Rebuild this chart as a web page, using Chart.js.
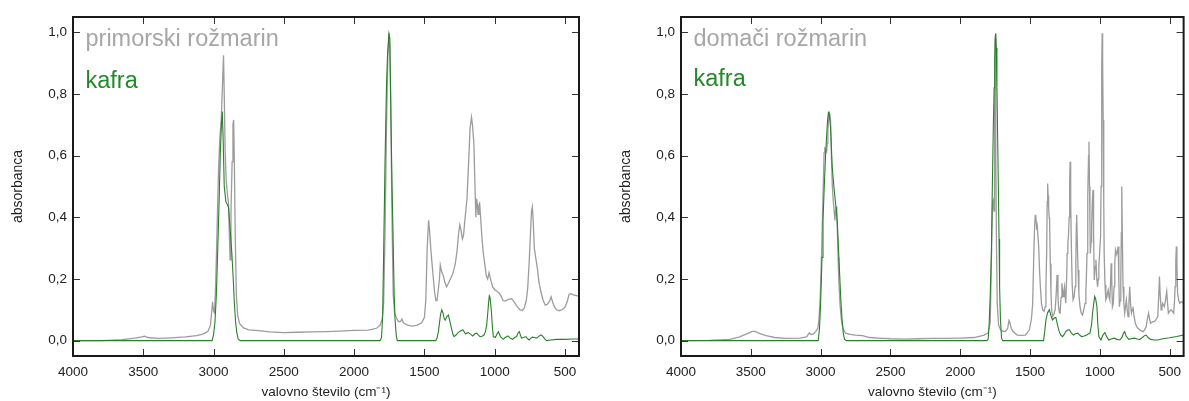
<!DOCTYPE html>
<html>
<head>
<meta charset="utf-8">
<script src="https://cdn.jsdelivr.net/npm/chart.js@4"></script>
<style>
  html, body { margin: 0; padding: 0; background: #fff; }
  #wrap { position: relative; width: 1189px; height: 401px; }
  .panel { position: absolute; top: 0; height: 401px; }
</style>
</head>
<body>
<div id="wrap">
  <div class="panel" style="left:0;width:594px"><canvas id="leftChart"></canvas></div>
  <div class="panel" style="left:608px;width:581px"><canvas id="rightChart"></canvas></div>
</div>
<script>
// Axis ticks (wavenumber in cm^-1, absorbance)
const xTickValues = [4000, 3500, 3000, 2500, 2000, 1500, 1000, 500];
const yTickValues = [0, 0.2, 0.4, 0.6, 0.8, 1.0];

// Series names
const leftSampleName = 'primorski rožmarin';
const rightSampleName = 'domači rožmarin';
const referenceName = 'kafra';

// IR spectrum: primorski rožmarin  [wavenumber, absorbance]
const primorskiSpectrum = [
  [4000,0.0],[3800,0.0],[3650,0.003],[3560,0.008],[3510,0.012],[3490,0.014],[3470,0.01],[3400,0.007],
  [3300,0.009],[3200,0.012],[3120,0.016],[3070,0.022],[3040,0.03],[3022,0.05],[3012,0.1],[3007,0.126],
  [3000,0.095],[2993,0.09],[2985,0.18],[2975,0.36],[2965,0.55],[2955,0.66],[2945,0.72],[2935,0.85],
  [2929,0.926],[2924,0.8],[2918,0.62],[2910,0.52],[2900,0.47],[2893,0.44],[2887,0.33],[2882,0.262],
  [2876,0.42],[2868,0.58],[2862,0.7],[2857,0.716],[2852,0.58],[2846,0.35],[2838,0.15],[2828,0.08],
  [2815,0.056],[2790,0.042],[2750,0.035],[2700,0.033],[2600,0.028],[2500,0.026],[2400,0.027],[2300,0.028],
  [2200,0.029],[2100,0.031],[2000,0.033],[1900,0.034],[1840,0.04],[1815,0.05],[1800,0.07],[1790,0.12],
  [1780,0.35],[1770,0.68],[1760,0.92],[1752,0.998],[1746,0.95],[1740,0.8],[1732,0.45],[1722,0.15],
  [1712,0.09],[1700,0.075],[1685,0.062],[1670,0.062],[1660,0.07],[1650,0.058],[1620,0.05],[1585,0.047],
  [1550,0.05],[1520,0.058],[1500,0.075],[1490,0.13],[1480,0.3],[1470,0.39],[1462,0.35],[1455,0.3],
  [1440,0.22],[1428,0.16],[1418,0.13],[1410,0.13],[1400,0.17],[1393,0.2],[1387,0.245],[1378,0.225],
  [1365,0.21],[1355,0.19],[1342,0.175],[1330,0.185],[1315,0.2],[1297,0.218],[1280,0.25],[1268,0.29],
  [1256,0.35],[1248,0.375],[1240,0.36],[1230,0.33],[1222,0.34],[1210,0.4],[1197,0.46],[1185,0.58],
  [1175,0.69],[1165,0.725],[1158,0.7],[1148,0.64],[1140,0.5],[1134,0.4],[1128,0.46],[1123,0.44],
  [1118,0.41],[1112,0.44],[1107,0.445],[1100,0.4],[1090,0.33],[1080,0.28],[1068,0.24],[1060,0.21],
  [1050,0.2],[1040,0.22],[1030,0.2],[1015,0.175],[1000,0.165],[985,0.16],[970,0.155],[955,0.145],
  [940,0.13],[925,0.128],[900,0.134],[880,0.136],[860,0.125],[840,0.11],[820,0.1],[805,0.097],
  [790,0.105],[775,0.13],[765,0.17],[755,0.25],[745,0.35],[738,0.42],[732,0.434],[726,0.39],
  [718,0.3],[705,0.26],[695,0.23],[685,0.19],[672,0.16],[655,0.13],[640,0.115],[625,0.118],
  [610,0.128],[598,0.142],[588,0.125],[575,0.11],[560,0.1],[540,0.097],[520,0.1],[500,0.108],
  [485,0.125],[470,0.15],[455,0.152],[440,0.148],[425,0.147],[410,0.145],[400,0.144]
];

// IR spectrum: kafra, measured alongside primorski rožmarin
const kafraSpectrumA = [
  [4000,0.0],[3100,0.0],[3010,0.0],[3000,0.02],[2990,0.06],[2980,0.15],[2971,0.284],[2960,0.46],
  [2952,0.608],[2944,0.7],[2938,0.743],[2932,0.66],[2924,0.5],[2912,0.45],[2900,0.44],[2893,0.43],
  [2882,0.36],[2870,0.284],[2860,0.2],[2852,0.122],[2843,0.06],[2836,0.03],[2825,0.005],[2810,0.0],
  [1815,0.0],[1805,0.01],[1797,0.08],[1790,0.28],[1780,0.58],[1770,0.82],[1762,0.93],[1752,0.995],
  [1746,0.98],[1738,0.72],[1730,0.5],[1723,0.34],[1715,0.15],[1709,0.07],[1700,0.015],[1693,0.0],
  [1420,0.0],[1410,0.008],[1400,0.03],[1393,0.056],[1385,0.085],[1376,0.1],[1368,0.09],[1358,0.07],
  [1352,0.066],[1340,0.078],[1329,0.083],[1320,0.065],[1310,0.045],[1298,0.022],[1289,0.013],[1275,0.018],
  [1260,0.026],[1246,0.03],[1227,0.035],[1216,0.028],[1208,0.022],[1195,0.025],[1187,0.026],[1170,0.02],
  [1156,0.015],[1140,0.022],[1128,0.024],[1115,0.018],[1104,0.013],[1090,0.014],[1076,0.018],[1065,0.03],
  [1057,0.05],[1049,0.09],[1043,0.125],[1038,0.145],[1033,0.14],[1024,0.1],[1017,0.05],[1010,0.013],
  [995,0.01],[985,0.02],[974,0.029],[965,0.02],[958,0.013],[948,0.008],[939,0.004],[925,0.01],
  [906,0.015],[890,0.008],[873,0.004],[858,0.01],[844,0.013],[835,0.024],[825,0.029],[817,0.018],
  [809,0.008],[795,0.01],[778,0.013],[765,0.006],[754,0.002],[742,0.008],[731,0.011],[718,0.01],
  [702,0.008],[688,0.013],[674,0.018],[664,0.017],[655,0.012],[640,0.004],[631,0.0],[600,0.002],
  [560,0.004],[500,0.004],[450,0.005],[400,0.005]
];

// IR spectrum: domači rožmarin
const domaciSpectrum = [
  [4000,0.0],[3800,0.001],[3650,0.004],[3580,0.012],[3530,0.022],[3490,0.03],[3470,0.03],[3430,0.022],
  [3390,0.016],[3330,0.01],[3250,0.007],[3150,0.008],[3100,0.012],[3081,0.025],[3070,0.02],[3050,0.022],
  [3036,0.029],[3020,0.04],[3012,0.067],[3003,0.14],[2993,0.283],[2981,0.5],[2975,0.61],[2970,0.624],
  [2964,0.62],[2957,0.613],[2952,0.64],[2948,0.683],[2942,0.72],[2938,0.737],[2933,0.73],[2929,0.716],
  [2922,0.586],[2916,0.5],[2910,0.456],[2903,0.42],[2898,0.39],[2893,0.42],[2889,0.435],[2884,0.4],
  [2881,0.37],[2875,0.27],[2870,0.197],[2860,0.11],[2851,0.067],[2840,0.04],[2822,0.024],[2790,0.02],
  [2751,0.018],[2700,0.016],[2650,0.01],[2585,0.008],[2500,0.006],[2400,0.005],[2300,0.006],[2200,0.007],
  [2100,0.007],[2000,0.008],[1900,0.01],[1829,0.018],[1800,0.025],[1785,0.06],[1775,0.306],[1768,0.45],
  [1763,0.456],[1758,0.42],[1754,0.7],[1750,0.99],[1747,0.995],[1744,0.6],[1740,0.3],[1735,0.12],
  [1725,0.05],[1711,0.035],[1690,0.03],[1675,0.03],[1660,0.04],[1651,0.065],[1645,0.06],[1635,0.04],
  [1623,0.03],[1592,0.018],[1560,0.017],[1533,0.018],[1505,0.035],[1490,0.07],[1481,0.121],[1472,0.3],
  [1467,0.37],[1463,0.405],[1459,0.408],[1455,0.38],[1452,0.36],[1448,0.37],[1445,0.37],[1438,0.305],
  [1432,0.23],[1426,0.175],[1418,0.12],[1410,0.1],[1400,0.095],[1391,0.11],[1386,0.18],[1381,0.283],
  [1377,0.45],[1374,0.51],[1370,0.47],[1367,0.435],[1363,0.4],[1360,0.39],[1355,0.25],[1350,0.153],
  [1345,0.1],[1339,0.078],[1330,0.085],[1320,0.1],[1313,0.15],[1306,0.213],[1300,0.14],[1296,0.11],
  [1290,0.09],[1285,0.089],[1278,0.14],[1272,0.186],[1267,0.16],[1263,0.143],[1258,0.16],[1253,0.175],
  [1248,0.14],[1244,0.121],[1238,0.2],[1234,0.283],[1229,0.32],[1225,0.337],[1220,0.4],[1216,0.52],
  [1213,0.58],[1209,0.45],[1203,0.283],[1198,0.18],[1192,0.132],[1185,0.14],[1177,0.175],[1172,0.25],
  [1168,0.38],[1166,0.408],[1162,0.33],[1156,0.229],[1150,0.15],[1142,0.11],[1134,0.09],[1125,0.083],
  [1115,0.1],[1106,0.121],[1100,0.16],[1095,0.23],[1092,0.283],[1088,0.4],[1085,0.47],[1081,0.6],
  [1078,0.645],[1074,0.5],[1071,0.38],[1068,0.283],[1063,0.32],[1059,0.37],[1054,0.45],[1049,0.489],
  [1045,0.35],[1040,0.197],[1034,0.24],[1028,0.262],[1022,0.2],[1016,0.175],[1011,0.2],[1007,0.24],
  [1001,0.29],[995,0.337],[991,0.5],[988,0.65],[985,0.9],[983,0.997],[980,0.9],[976,0.716],
  [972,0.45],[969,0.283],[963,0.18],[957,0.132],[950,0.14],[945,0.155],[940,0.164],[934,0.14],
  [929,0.132],[924,0.18],[919,0.251],[915,0.2],[910,0.11],[904,0.12],[898,0.175],[893,0.25],
  [888,0.294],[883,0.285],[879,0.283],[874,0.29],[869,0.305],[864,0.2],[860,0.11],[855,0.13],
  [850,0.197],[846,0.35],[843,0.5],[839,0.35],[834,0.175],[828,0.12],[822,0.089],[816,0.11],
  [810,0.132],[804,0.1],[798,0.078],[792,0.12],[786,0.175],[780,0.12],[774,0.089],[768,0.1],
  [763,0.11],[755,0.08],[746,0.056],[736,0.045],[727,0.04],[710,0.033],[691,0.029],[680,0.035],
  [668,0.045],[660,0.07],[651,0.089],[644,0.07],[637,0.056],[625,0.06],[608,0.062],[595,0.07],
  [585,0.078],[578,0.15],[573,0.208],[568,0.15],[561,0.1],[555,0.11],[550,0.121],[544,0.115],
  [538,0.11],[530,0.13],[521,0.159],[515,0.12],[509,0.089],[500,0.095],[490,0.1],[480,0.095],
  [471,0.089],[465,0.13],[461,0.175],[456,0.26],[452,0.305],[448,0.25],[443,0.154],[435,0.13],
  [428,0.121],[420,0.125],[414,0.126],[405,0.123],[400,0.121]
];

// IR spectrum: kafra, measured alongside domači rožmarin
const kafraSpectrumB = [
  [4000,0.0],[3100,0.0],[3017,0.0],[3008,0.04],[3000,0.12],[2990,0.27],[2983,0.39],[2973,0.51],
  [2964,0.607],[2956,0.67],[2950,0.716],[2944,0.74],[2941,0.743],[2935,0.72],[2929,0.694],[2923,0.63],
  [2917,0.564],[2907,0.51],[2898,0.467],[2889,0.43],[2881,0.39],[2873,0.31],[2865,0.229],[2855,0.13],
  [2846,0.067],[2838,0.025],[2829,0.004],[2815,0.0],[1810,0.0],[1800,0.005],[1793,0.05],[1785,0.15],
  [1777,0.283],[1770,0.5],[1763,0.694],[1757,0.82],[1753,0.91],[1749,0.98],[1746,0.997],[1742,0.95],
  [1737,0.82],[1732,0.66],[1727,0.5],[1722,0.33],[1718,0.175],[1712,0.07],[1704,0.008],[1695,0.0],
  [1403,0.0],[1395,0.03],[1386,0.067],[1375,0.09],[1362,0.1],[1350,0.08],[1339,0.067],[1327,0.073],
  [1315,0.075],[1303,0.05],[1291,0.029],[1280,0.018],[1267,0.013],[1255,0.02],[1244,0.029],[1230,0.034],
  [1218,0.035],[1205,0.025],[1189,0.018],[1175,0.022],[1158,0.024],[1145,0.018],[1130,0.013],[1112,0.015],
  [1094,0.018],[1080,0.022],[1071,0.024],[1060,0.05],[1052,0.089],[1044,0.12],[1037,0.143],[1030,0.135],
  [1021,0.11],[1014,0.05],[1007,0.013],[992,0.002],[978,0.018],[964,0.026],[950,0.012],[936,0.002],
  [918,0.005],[898,0.008],[878,0.004],[857,0.002],[840,0.012],[830,0.025],[822,0.029],[812,0.015],
  [793,0.004],[770,0.007],[751,0.008],[733,0.005],[715,0.004],[695,0.01],[680,0.016],[668,0.018],
  [655,0.01],[637,0.004],[610,0.002],[585,0.002],[550,0.006],[500,0.009],[450,0.013],[400,0.018]
];

const FONT = '"Liberation Sans", Arial, Helvetica, sans-serif';
const INK = '#222222';

// Box frame with inward tick marks on all four sides
const framePlugin = {
  id: 'frameTicks',
  afterDatasetsDraw(chart) {
    const { ctx, chartArea: a, scales: { x, y } } = chart;
    const len = 7;
    ctx.save();
    ctx.strokeStyle = '#333333';
    ctx.lineWidth = 1;
    ctx.beginPath();
    xTickValues.forEach(v => {
      const px = Math.round(x.getPixelForValue(v)) + 0.5;
      if (px <= a.left + 1 || px >= a.right - 1) return;
      ctx.moveTo(px, a.top); ctx.lineTo(px, a.top + len);
      ctx.moveTo(px, a.bottom); ctx.lineTo(px, a.bottom - len);
    });
    yTickValues.forEach(v => {
      const py = Math.round(y.getPixelForValue(v)) + 0.5;
      ctx.moveTo(a.left, py); ctx.lineTo(a.left + len, py);
      ctx.moveTo(a.right, py); ctx.lineTo(a.right - len, py);
    });
    ctx.stroke();
    ctx.strokeStyle = '#1a1a1a';
    ctx.lineWidth = 2;
    ctx.strokeRect(a.left, a.top, a.right - a.left, a.bottom - a.top);
    ctx.restore();
  }
};

// Series names written inside the plot, in the colour of each series
const seriesNamePlugin = {
  id: 'seriesNames',
  afterDraw(chart, args, opts) {
    const { ctx, chartArea: a } = chart;
    ctx.save();
    ctx.font = opts.size + 'px ' + FONT;
    ctx.textAlign = 'left';
    ctx.textBaseline = 'alphabetic';
    chart.data.datasets.forEach((ds, i) => {
      ctx.fillStyle = ds.nameColor;
      ctx.fillText(ds.label, a.left + opts.dx, a.top + opts.firstBaseline + i * opts.gap);
    });
    ctx.restore();
  }
};

function toXY(points) {
  return points.map(([wn, abs]) => ({ x: wn, y: abs }));
}

function makeSpectrumChart(canvasId, sampleName, sampleSpectrum, kafraSpectrum, rightPad, nameGap) {
  return new Chart(document.getElementById(canvasId), {
    type: 'line',
    data: {
      datasets: [
        {
          label: sampleName,
          data: toXY(sampleSpectrum),
          borderColor: '#9c9c9c',
          nameColor: '#a6a6a6',
          borderWidth: 1.3,
          pointRadius: 0,
          tension: 0,
          order: 1
        },
        {
          label: referenceName,
          data: toXY(kafraSpectrum),
          borderColor: '#2a7f2a',
          nameColor: '#23892a',
          borderWidth: 1.1,
          pointRadius: 0,
          tension: 0,
          order: 0
        }
      ]
    },
    options: {
      responsive: true,
      maintainAspectRatio: false,
      animation: false,
      events: [],
      layout: { padding: { top: 17, right: rightPad, bottom: 0, left: 0 } },
      plugins: {
        legend: { display: false },
        tooltip: { enabled: false },
        seriesNames: { size: 23.5, dx: 12.5, firstBaseline: 28.5, gap: nameGap }
      },
      scales: {
        x: {
          type: 'linear',
          reverse: true,
          min: 400,
          max: 4000,
          grid: { display: false, drawTicks: false },
          border: { display: false },
          afterBuildTicks: s => { s.ticks = xTickValues.map(v => ({ value: v })); },
          afterFit: s => { s.height = 45; },
          ticks: {
            autoSkip: false,
            maxRotation: 0,
            padding: 8,
            color: INK,
            font: { family: FONT, size: 13.5 },
            callback: v => String(v)
          },
          title: {
            display: true,
            text: 'valovno število (cm⁻¹)',
            color: INK,
            font: { family: FONT, size: 13.5 },
            padding: { top: 0, bottom: 1 }
          }
        },
        y: {
          type: 'linear',
          min: -0.05,
          max: 1.05,
          grid: { display: false, drawTicks: false },
          border: { display: false },
          afterBuildTicks: s => { s.ticks = yTickValues.map(v => ({ value: v })); },
          afterFit: s => { s.width = 73; },
          ticks: {
            padding: 6,
            color: INK,
            font: { family: FONT, size: 13.5 },
            callback: v => v.toFixed(1).replace('.', ',')
          },
          title: {
            display: true,
            text: 'absorbanca',
            color: INK,
            font: { family: FONT, size: 14 },
            padding: { top: 10, bottom: 0 }
          }
        }
      }
    },
    plugins: [framePlugin, seriesNamePlugin]
  });
}

makeSpectrumChart('leftChart', leftSampleName, primorskiSpectrum, kafraSpectrumA, 15, 42.5);
makeSpectrumChart('rightChart', rightSampleName, domaciSpectrum, kafraSpectrumB, 3, 40.5);
</script>
</body>
</html>
